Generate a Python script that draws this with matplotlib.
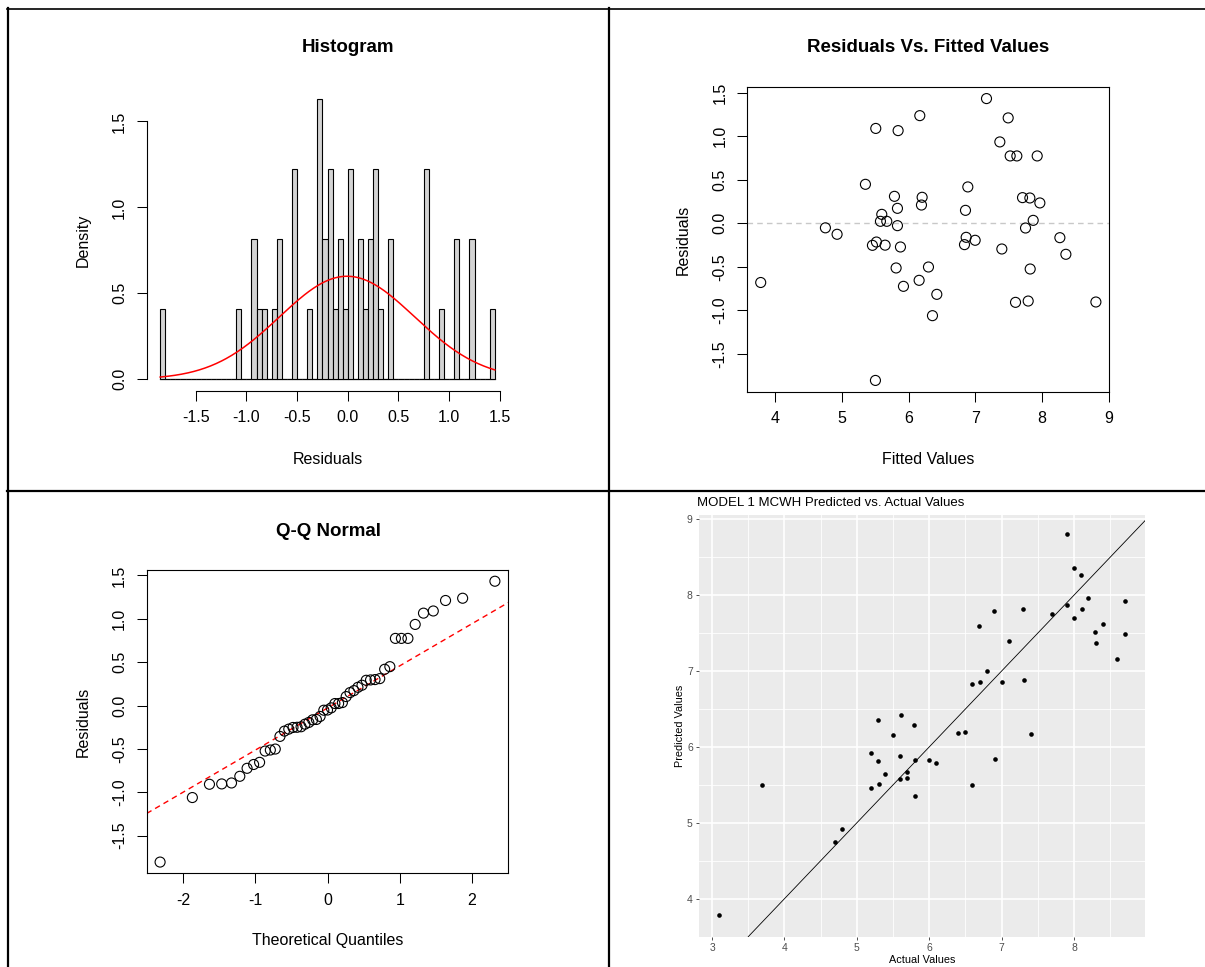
import matplotlib
matplotlib.use('Agg')
import matplotlib.pyplot as plt
import numpy as np
from statistics import NormalDist
from matplotlib.lines import Line2D

plt.rcParams['font.family'] = ['Liberation Sans', 'DejaVu Sans']
plt.rcParams['axes.unicode_minus'] = False

# ---- data ----
fitted = [3.78, 4.75, 4.925, 5.35, 5.505, 5.455, 5.515, 5.595, 5.575, 5.67,
          5.645, 5.50, 5.785, 5.83, 5.83, 5.84, 5.875, 5.81, 5.92, 6.165,
          6.20, 6.19, 6.155, 6.295, 6.42, 6.355, 6.885, 6.85, 6.86, 6.835,
          6.995, 7.165, 7.49, 7.365, 7.52, 7.62, 7.925, 7.395, 7.705, 7.815,
          7.965, 7.865, 7.75, 7.82, 7.60, 7.79, 8.265, 8.355, 8.805]
residuals = [-0.68, -0.052, -0.126, 0.448, 1.09, -0.253, -0.215, 0.103, 0.023, 0.023,
             -0.251, -1.805, 0.31, 0.172, -0.027, 1.065, -0.272, -0.513, -0.724, 1.237,
             0.299, 0.21, -0.655, -0.502, -0.816, -1.061, 0.418, 0.149, -0.161, -0.245,
             -0.195, 1.433, 1.211, 0.935, 0.774, 0.774, 0.774, -0.295, 0.295, 0.291,
             0.234, 0.034, -0.054, -0.525, -0.908, -0.893, -0.165, -0.356, -0.904]
hist_ticks_x = [-1.5, -1.0, -0.5, 0.0, 0.5, 1.0, 1.5]
hist_ticks_y = [0.0, 0.5, 1.0, 1.5]
fit_ticks_x = [4, 5, 6, 7, 8, 9]
res_ticks = [-1.5, -1.0, -0.5, 0.0, 0.5, 1.0, 1.5]
qq_ticks_x = [-2, -1, 0, 1, 2]
gg_ticks_x = [3, 4, 5, 6, 7, 8]
gg_ticks_y = [4, 5, 6, 7, 8, 9]

fitted = np.array(fitted)
res = np.array(residuals)
actual = fitted + res

W, H = 1205, 967
fig = plt.figure(figsize=(W / 100, H / 100), dpi=100)


def rect(l, t, r, b):
    return [l / W, 1 - b / H, (r - l) / W, (b - t) / H]


def ftext(x, y, s, **kw):
    fig.text(x / W, 1 - y / H, s, ha='center', va='center', **kw)


def r_style(ax, box=True):
    ax.tick_params(direction='out', length=7.2, width=0.75, labelsize=11.5,
                   pad=7, colors='black')
    ax.tick_params(axis='y', labelrotation=90)
    for lab in ax.get_yticklabels():
        lab.set_va('center')
    for s in ax.spines.values():
        s.set_linewidth(0.8)
        s.set_visible(box)


def fmt(v):
    return ('%.1f' % v)


# ---- Panel 1: Histogram ----
ax1 = fig.add_axes(rect(146.8, 87.4, 508.2, 390.5))
edges = np.round(np.arange(67) * 0.05 - 1.85, 2)
ax1.plot([edges[0], edges[-1]], [0, 0], color='#555555', lw=0.9, zorder=1)
dens, _, _ = ax1.hist(res, bins=edges, density=True, color='#D3D3D3',
                      edgecolor='black', linewidth=0.8, zorder=2)
mu, sd = res.mean(), res.std(ddof=1)
xs = np.linspace(edges[0], edges[-1], 300)
ax1.plot(xs, np.exp(-0.5 * ((xs - mu) / sd) ** 2) / (sd * np.sqrt(2 * np.pi)),
         color='red', lw=1.1, zorder=3)
span = edges[-1] - edges[0]
ax1.set_xlim(edges[0] - 0.04 * span, edges[-1] + 0.04 * span)
ax1.set_ylim(-0.04 * dens.max(), 1.04 * dens.max())
ax1.set_xticks(hist_ticks_x, [fmt(v) for v in hist_ticks_x])
ax1.set_yticks(hist_ticks_y, [fmt(v) for v in hist_ticks_y])
r_style(ax1, box=False)
ax1.spines['bottom'].set_visible(True)
ax1.spines['left'].set_visible(True)
ax1.spines['bottom'].set_bounds(hist_ticks_x[0], hist_ticks_x[-1])
ax1.spines['left'].set_bounds(hist_ticks_y[0], hist_ticks_y[-1])
ftext(348, 48, 'Histogram', fontsize=13.5, fontweight='bold')
ftext(328, 460, 'Residuals', fontsize=11.5)
ftext(83, 240, 'Density', fontsize=11.5, rotation=90)


def pad_lim(v, f=0.04):
    lo, hi = np.min(v), np.max(v)
    d = (hi - lo) * f
    return lo - d, hi + d


# ---- Panel 2: Residuals vs fitted ----
ax2 = fig.add_axes(rect(747.3, 87.3, 1109.3, 391.7))
ax2.axhline(0, color='#C8C8C8', ls=(0, (4, 3)), lw=1.0, zorder=1)
ax2.scatter(fitted, res, s=52, facecolors='none', edgecolors='black',
            linewidths=0.8, zorder=2)
ax2.set_xlim(*pad_lim(fitted))
ax2.set_ylim(*pad_lim(res))
ax2.set_xticks(fit_ticks_x, [str(v) for v in fit_ticks_x])
ax2.set_yticks(res_ticks, [fmt(v) for v in res_ticks])
r_style(ax2)
ftext(928, 48, 'Residuals Vs. Fitted Values', fontsize=13.5, fontweight='bold')
ftext(928, 460, 'Fitted Values', fontsize=11.5)
ftext(683, 240, 'Residuals', fontsize=11.5, rotation=90)

# ---- Panel 3: Q-Q Normal ----
ax3 = fig.add_axes(rect(146.7, 570, 508.3, 873.3))
nd = NormalDist()
n = len(res)
theo = np.array([nd.inv_cdf((i - 0.5) / n) for i in range(1, n + 1)])
ys = np.sort(res)
q1, q3 = np.percentile(res, [25, 75])
slope = (q3 - q1) / (nd.inv_cdf(0.75) - nd.inv_cdf(0.25))
inter = q1 - slope * nd.inv_cdf(0.25)
ax3.axline((0, inter), slope=slope, color='red', ls=(0, (4, 3)), lw=1.0, zorder=1)
ax3.scatter(theo, ys, s=52, facecolors='none', edgecolors='black',
            linewidths=0.8, zorder=2)
ax3.set_xlim(*pad_lim(theo))
ax3.set_ylim(*pad_lim(ys))
ax3.set_xticks(qq_ticks_x, [str(v) for v in qq_ticks_x])
ax3.set_yticks(res_ticks, [fmt(v) for v in res_ticks])
r_style(ax3)
ftext(328, 531, 'Q-Q Normal', fontsize=13.5, fontweight='bold')
ftext(328, 941, 'Theoretical Quantiles', fontsize=11.5)
ftext(83, 722, 'Residuals', fontsize=11.5, rotation=90)

# ---- Panel 4: ggplot-like predicted vs actual ----
ax4 = fig.add_axes(rect(699, 515, 1145, 936.7))
ax4.set_facecolor('#EBEBEB')
ax4.set_xlim(*pad_lim(actual, 0.05))
ax4.set_ylim(*pad_lim(fitted, 0.05))
ax4.set_xticks(gg_ticks_x, [str(v) for v in gg_ticks_x])
ax4.set_yticks(gg_ticks_y, [str(v) for v in gg_ticks_y])
ax4.set_xticks([v + 0.5 for v in gg_ticks_x], minor=True)
ax4.set_yticks([v - 0.5 for v in gg_ticks_y], minor=True)
ax4.grid(which='major', color='white', lw=1.2)
ax4.grid(which='minor', color='white', lw=0.6)
ax4.set_axisbelow(True)
for s in ax4.spines.values():
    s.set_visible(False)
ax4.tick_params(which='major', length=2.5, width=0.6, color='#333333',
                labelcolor='#4D4D4D', labelsize=7.5, pad=2)
ax4.tick_params(which='minor', length=0)
ax4.axline((0, 0), slope=1, color='black', lw=0.6, zorder=2)
ax4.scatter(actual, fitted, s=11, color='black', zorder=3, linewidths=0)
fig.text(697 / W, 1 - 503 / H, 'MODEL 1 MCWH Predicted vs. Actual Values',
         ha='left', va='center', fontsize=9.5)
ftext(922, 960, 'Actual Values', fontsize=7.8)
ftext(680, 726, 'Predicted Values', fontsize=7.8, rotation=90)

# ---- table borders ----
def hline(y, x0, x1, lw):
    fig.add_artist(Line2D([x0 / W, x1 / W], [1 - y / H, 1 - y / H],
                          transform=fig.transFigure, color='black', lw=lw))


def vline(x, y0, y1, lw):
    fig.add_artist(Line2D([x / W, x / W], [1 - y0 / H, 1 - y1 / H],
                          transform=fig.transFigure, color='black', lw=lw))


hline(9, 7, W, 1.2)
hline(491, 7, W, 1.6)
vline(8, 8, H, 1.6)
vline(609, 8, H, 1.6)

fig.savefig('out.png', dpi=100)
